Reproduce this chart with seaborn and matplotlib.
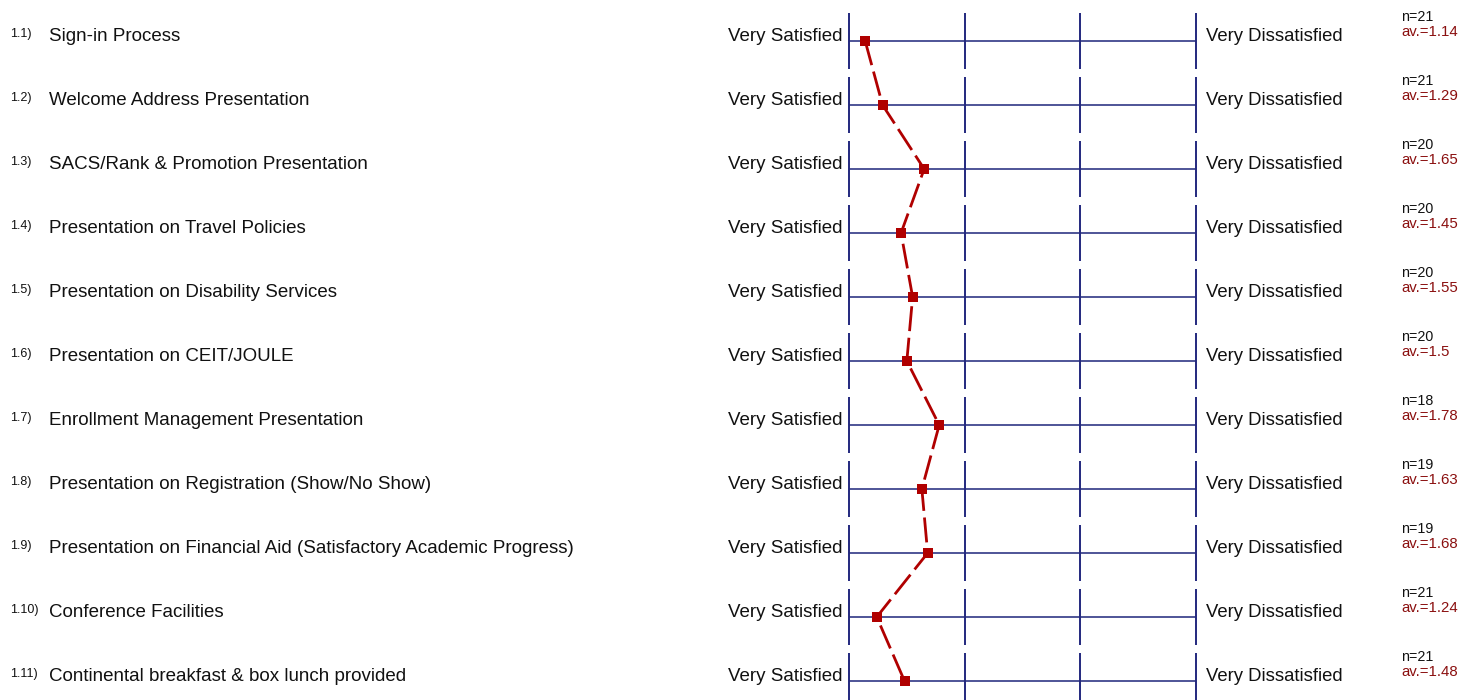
import matplotlib
matplotlib.use('Agg')
import matplotlib.pyplot as plt
import matplotlib.transforms as mtransforms
import seaborn as sns
import pandas as pd

# survey items, answer counts and mean scores (1 = very satisfied ... 4 = very dissatisfied)
numbers = ['1.1)', '1.2)', '1.3)', '1.4)', '1.5)', '1.6)', '1.7)', '1.8)', '1.9)', '1.10)', '1.11)']
items = ['Sign-in Process',
         'Welcome Address Presentation',
         'SACS/Rank & Promotion Presentation',
         'Presentation on Travel Policies',
         'Presentation on Disability Services',
         'Presentation on CEIT/JOULE',
         'Enrollment Management Presentation',
         'Presentation on Registration (Show/No Show)',
         'Presentation on Financial Aid (Satisfactory Academic Progress)',
         'Conference Facilities',
         'Continental breakfast & box lunch provided']
counts = [21, 21, 20, 20, 20, 20, 18, 19, 19, 21, 21]
averages = [1.14, 1.29, 1.65, 1.45, 1.55, 1.5, 1.78, 1.63, 1.68, 1.24, 1.48]
scale = [1, 2, 3, 4]
left_pole = 'Very Satisfied'
right_pole = 'Very Dissatisfied'

sns.set_theme(style='white')
plt.rcParams['font.family'] = ['Liberation Sans', 'DejaVu Sans']

W, H = 1465, 700
fig = plt.figure(figsize=(W / 100, H / 100), dpi=100)
fig.patch.set_facecolor('white')

# axes covers the scale area, one row per 64 px, first row line at 41 px
row_px = 64.0
top_px = 41.0
ax = fig.add_axes([849 / W, 0, (1196 - 849) / W, 1])
ax.set_xlim(scale[0], scale[-1])
ax.set_ylim((H - top_px) / row_px, -top_px / row_px)
ax.axis('off')

rows = list(range(len(items)))
half = 28 / row_px

for r in rows:
    ax.hlines(r, scale[0], scale[-1], color='#40468f', lw=1.3, clip_on=False, zorder=1)
    ax.vlines(scale, r - half, r + half, color='#23287e', lw=1.4, clip_on=False, zorder=1)

df = pd.DataFrame({'mean': averages, 'row': rows})
sns.lineplot(data=df, x='mean', y='row', orient='y', ax=ax, color='#b00000',
             lw=2.0, marker='s', markersize=7,
             markeredgewidth=0, markerfacecolor='#b00000', zorder=3, clip_on=False)
profile = ax.lines[-1]
profile.set_linestyle((0, (9, 2.4)))

trans_left = mtransforms.blended_transform_factory(fig.transFigure, ax.transData)
px = 1 / row_px
for r in rows:
    fig_txt = dict(transform=trans_left, va='baseline')
    ax.text(10 / W, r - 4 * px, numbers[r], fontsize=9, color='#111111', **fig_txt)
    ax.text(49 / W, r, items[r], fontsize=13.5, color='#111111', **fig_txt)
    ax.text(843 / W, r, left_pole, fontsize=13.5, color='#111111', ha='right', **fig_txt)
    ax.text(1206 / W, r, right_pole, fontsize=13.3, color='#111111', ha='left', **fig_txt)
    ax.text(1401 / W, r - 20 * px, 'n=%d' % counts[r], fontsize=10.3, color='#111111', **fig_txt)
    ax.text(1401 / W, r - 5 * px, 'av.=%s' % ('%g' % averages[r]), fontsize=10.8, color='#8b1010', **fig_txt)

fig.savefig('out.png', dpi=100)
